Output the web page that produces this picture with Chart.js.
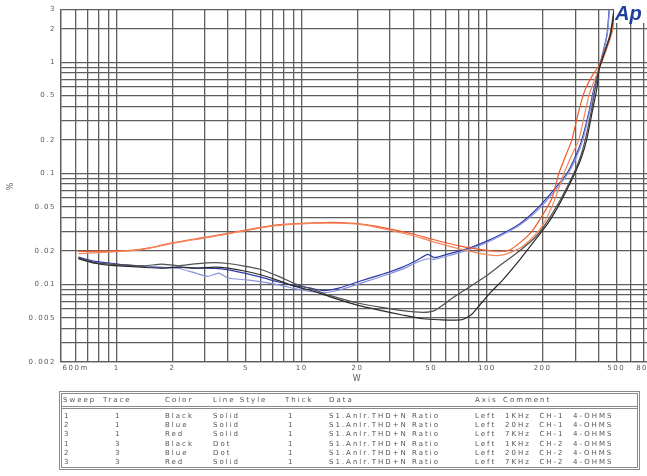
<!DOCTYPE html>
<html><head><meta charset="utf-8">
<script src="https://cdn.jsdelivr.net/npm/chart.js@4.4.1/dist/chart.umd.min.js"></script>
<style>
html,body{margin:0;padding:0;background:#fff;width:647px;height:476px;overflow:hidden;}
#wrap{position:absolute;left:0;top:0;width:670px;height:392px;}
#logo{position:absolute;left:614px;top:3px;font:bold italic 20px "Liberation Sans",Arial,sans-serif;color:#1f3f9f;background:#fff;padding:0 6px 0 1px;line-height:20px;}
#legend{position:absolute;left:59px;top:391px;width:575px;height:73px;border:3px double #8a8a8a;font:7px "DejaVu Sans",sans-serif;letter-spacing:2px;color:#555;}
.cell{position:absolute;white-space:pre;line-height:8px;}
#sep{position:absolute;left:0;right:0;top:12px;border-top:3px double #8a8a8a;}
</style></head><body>
<div id="wrap"><canvas id="c" width="670" height="392"></canvas></div>
<div id="logo">Ap</div>
<div id="legend"><div id="sep"></div></div>
<script>
// ---- tick labels ----
const xLabelValues = [0.6, 1, 2, 5, 10, 20, 50, 100, 200, 500, 800];
const xLabelTexts  = ['600m','1','2','5','10','20','50','100','200','500','800'];
const yLabelValues = [0.002, 0.005, 0.01, 0.02, 0.05, 0.1, 0.2, 0.5, 1, 2, 3];
const yLabelTexts  = ['0.002','0.005','0.01','0.02','0.05','0.1','0.2','0.5','1','2','3'];

// ---- series (x = W, y = %) ----
const black1X = [0.62,0.76,0.94,1.16,1.42,1.75,2.16,2.64,3.4,4,4.9,6,7.5,9.2,11.3,14,20,27,35,45,52,65,80,100,121,150,182,210,250,295,320,340,365,385,403,462,486];
const black1Y = [0.0174,0.0157,0.0152,0.0149,0.0147,0.0152,0.0147,0.0153,0.0157,0.0154,0.0146,0.0136,0.0118,0.0101,0.0091,0.0080,0.0068,0.0062,0.0058,0.0056,0.0058,0.0075,0.0094,0.0120,0.0153,0.020,0.0264,0.036,0.058,0.1,0.14,0.2,0.35,0.58,0.87,1.75,3.0];
const blue1X = [0.62,0.75,0.9,1.1,1.4,1.75,2.2,2.7,3.4,4,4.9,6,7.5,9,11,13,16,20,25,30,35,42,48,52,60,80,100,121,150,182,220,271,300,326,355,379,403,445,458];
const blue1Y = [0.0176,0.0162,0.0156,0.0150,0.0146,0.0141,0.0143,0.0140,0.0139,0.0135,0.0126,0.0116,0.0105,0.0098,0.0093,0.0088,0.0093,0.0105,0.0118,0.0130,0.0143,0.0165,0.0186,0.0174,0.0185,0.0212,0.0245,0.0285,0.035,0.046,0.065,0.1,0.14,0.2,0.35,0.58,0.87,1.75,3.0];
const red1X = [0.62,0.8,1.0,1.2,1.5,2,3,4,5,7,10,13,16,20,25,30,40,50,70,100,130,150,175,200,225,245,265,288,305,326,345,370,403,440,474,492];
const red1Y = [0.0198,0.0199,0.0200,0.0202,0.0213,0.0237,0.0265,0.0288,0.0308,0.0340,0.0355,0.0360,0.0360,0.0353,0.0335,0.0315,0.0284,0.0256,0.0223,0.0202,0.0201,0.0235,0.030,0.042,0.060,0.1,0.14,0.2,0.3,0.46,0.6,0.75,0.93,1.35,1.9,3.0];
const black2X = [0.62,0.76,0.94,1.16,1.42,1.75,2.16,2.64,3.4,4,4.9,6,7.5,9.2,11.3,14,20,27,35,45,55,73,82,90,105,121,150,182,215,250,299,325,346,370,393,405,465,490];
const black2Y = [0.0170,0.0155,0.0148,0.0145,0.0142,0.0140,0.0143,0.0140,0.0143,0.0140,0.0132,0.0122,0.0108,0.0096,0.0088,0.0078,0.0065,0.0058,0.0053,0.0049,0.0048,0.0048,0.0053,0.0063,0.0085,0.0108,0.0165,0.0250,0.036,0.055,0.1,0.14,0.2,0.35,0.58,0.87,1.75,3.0];
const blue2X = [0.62,0.75,0.9,1.1,1.4,1.75,2.16,2.6,3.1,3.56,4,5.2,7.5,9,11.3,13,16,20,25,30,35,42,48,52,60,80,100,121,150,182,220,275,305,330,358,382,405,447,460];
const blue2Y = [0.0172,0.0158,0.0152,0.0147,0.0145,0.0143,0.0139,0.0128,0.0118,0.0126,0.0114,0.0109,0.0099,0.0092,0.0086,0.0084,0.0089,0.0100,0.0113,0.0125,0.0137,0.0158,0.0170,0.0168,0.0178,0.0205,0.0238,0.0278,0.034,0.044,0.062,0.1,0.14,0.2,0.35,0.58,0.87,1.75,3.0];
const red2X = [0.62,0.8,1.0,1.2,1.5,2,3,4,5,7,10,13,16,20,25,30,40,50,70,100,120,150,175,200,230,261,290,314,335,356,380,405,450,480,495];
const red2Y = [0.0189,0.0193,0.0197,0.0201,0.0211,0.0234,0.0262,0.0285,0.0305,0.0336,0.0351,0.0356,0.0355,0.0348,0.0328,0.0307,0.0274,0.0245,0.0210,0.0185,0.0183,0.0210,0.026,0.034,0.055,0.1,0.15,0.2,0.32,0.5,0.68,0.88,1.4,2.0,3.0];

// ---- legend table ----
const legendHeader = ['Sweep','Trace','Color','Line Style','Thick','Data','Axis','Comment'];
const legendRows = [
  ['1','1','Black','Solid','1','S1.Anlr.THD+N Ratio','Left','1KHz  CH-1  4-OHMS'],
  ['2','1','Blue','Solid','1','S1.Anlr.THD+N Ratio','Left','20Hz  CH-1  4-OHMS'],
  ['3','1','Red','Solid','1','S1.Anlr.THD+N Ratio','Left','7KHz  CH-1  4-OHMS'],
  ['1','3','Black','Dot','1','S1.Anlr.THD+N Ratio','Left','1KHz  CH-2  4-OHMS'],
  ['2','3','Blue','Dot','1','S1.Anlr.THD+N Ratio','Left','20Hz  CH-2  4-OHMS'],
  ['3','3','Red','Solid','1','S1.Anlr.THD+N Ratio','Left','7KHz  CH-2  4-OHMS']
];
const headerX = [63,103,165,213,285,329,475,503];
const rowX    = [64,115,165,213,288,329,475,505];

(function buildLegend(){
  const lg = document.getElementById('legend');
  const ox = 62, oy = 394;
  const add = (t, x, yc) => {
    const d = document.createElement('div');
    d.className = 'cell'; d.textContent = t;
    d.style.left = (x - ox) + 'px'; d.style.top = (yc - 4 - oy) + 'px';
    lg.appendChild(d);
  };
  legendHeader.forEach((t,i)=>add(t, headerX[i], 400));
  legendRows.forEach((r,j)=>r.forEach((t,i)=>add(t, rowX[i], 416 + j*9.2)));
})();

function gridValues(min, max){
  const out = [];
  for (let e = -4; e <= 4; e++) for (let k = 1; k <= 9; k++) {
    const v = +(k * Math.pow(10, e)).toPrecision(6);
    if (v >= min*0.9999 && v <= max*1.0001) out.push(v);
  }
  return out;
}
const xGrid = gridValues(0.5, 800);
const yGrid = gridValues(0.002, 3);
function labelFor(v, vals, texts){
  const i = vals.findIndex(a => Math.abs(a - v) / a < 1e-6);
  return i >= 0 ? texts[i] : '';
}
const pts = (xs, ys) => xs.map((x,i)=>({x, y: ys[i]}));
const ds = (label, xs, ys, color, w) => ({label, data: pts(xs, ys), borderColor: color, borderWidth: w||1.2, pointRadius: 0, fill: false, tension: 0.2});

const FONT = 'DejaVu Sans';
const GRID = '#5e5e5e';
new Chart(document.getElementById('c'), {
  type: 'line',
  data: { datasets: [
    ds('1KHz CH-2', black2X, black2Y, '#2a2a2a'),
    ds('1KHz CH-1', black1X, black1Y, '#505050'),
    ds('7KHz CH-2', red2X, red2Y, '#f5875c'),
    ds('7KHz CH-1', red1X, red1Y, '#ee5a2a'),
    ds('20Hz CH-2', blue2X, blue2Y, '#8a90e0'),
    ds('20Hz CH-1', blue1X, blue1Y, '#2f3ca8')
  ]},
  options: {
    responsive: false, animation: false, devicePixelRatio: 1,
    layout: { padding: { left: 0, top: 7, right: 16, bottom: 0 } },
    plugins: { legend: { display: false }, tooltip: { enabled: false } },
    scales: {
      x: {
        type: 'logarithmic', min: 0.5, max: 800,
        afterBuildTicks: s => { s.ticks = xGrid.map(v => ({ value: v })); },
        afterFit: s => { s.height = 30; },
        ticks: { autoSkip: false, maxRotation: 0, minRotation: 0, align: 'inner', padding: 2,
          font: { family: FONT, size: 7 }, color: '#5a5a5a',
          callback: v => labelFor(v, xLabelValues, xLabelTexts) },
        grid: { color: GRID, lineWidth: 1.3, drawTicks: false },
        border: { color: GRID, width: 1.3 },
        title: { display: true, text: 'W', color: '#5a5a5a', font: { family: FONT, size: 8 }, padding: { top: 0, bottom: 8 } }
      },
      y: {
        type: 'logarithmic', min: 0.002, max: 3,
        afterBuildTicks: s => { s.ticks = yGrid.map(v => ({ value: v })); },
        afterFit: s => { s.width = 61; },
        ticks: { autoSkip: false, padding: 5, font: { family: FONT, size: 7 }, color: '#5a5a5a',
          callback: v => labelFor(v, yLabelValues, yLabelTexts) },
        grid: { color: GRID, lineWidth: 1.3, drawTicks: false },
        border: { color: GRID, width: 1.3 },
        title: { display: true, text: '%', color: '#5a5a5a', font: { family: FONT, size: 8 }, padding: { top: 6, bottom: 0 } }
      }
    }
  },
  plugins: [{ id: 'spacing', beforeDraw(chart){ chart.ctx.letterSpacing = '1.5px'; } }]
});
</script>
</body></html>
